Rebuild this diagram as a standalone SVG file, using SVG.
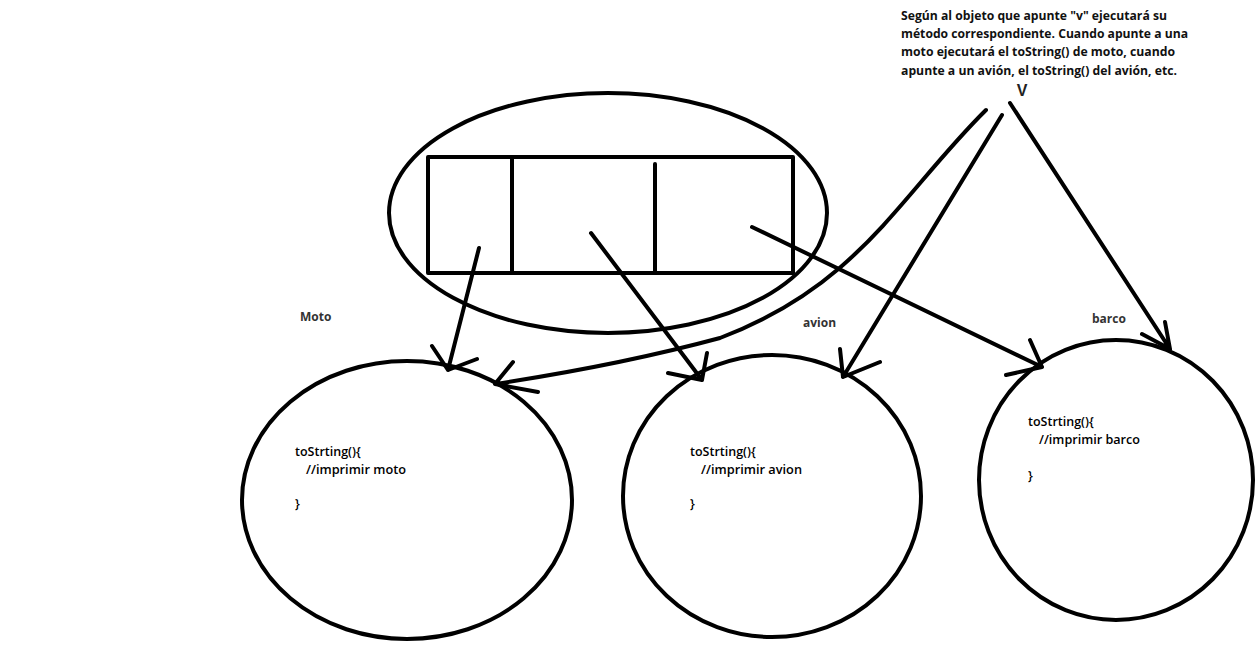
<svg xmlns="http://www.w3.org/2000/svg" width="1256" height="653" viewBox="0 0 1256 653">
<style>
.s{fill:none;stroke:#000;stroke-width:4;stroke-linecap:round;stroke-linejoin:round}
.note{font-family:"Open Sans","Liberation Sans",sans-serif;font-weight:bold;font-size:12.5px;fill:#111}
.lbl{font-family:"Open Sans","Liberation Sans",sans-serif;font-weight:bold;font-size:12px;fill:#333}
.code{font-family:"Open Sans","Liberation Sans",sans-serif;font-weight:600;font-size:12.5px;fill:#000}
</style>
<rect width="1256" height="653" fill="#fff"/>
<g id="note">
<text class="note" x="901" y="20" textLength="266" lengthAdjust="spacingAndGlyphs">Según al objeto que apunte "v" ejecutará su</text>
<text class="note" x="901" y="38" textLength="287" lengthAdjust="spacingAndGlyphs">método correspondiente. Cuando apunte a una</text>
<text class="note" x="901" y="56" textLength="274" lengthAdjust="spacingAndGlyphs">moto ejecutará el toString() de moto, cuando</text>
<text class="note" x="901" y="75" textLength="276" lengthAdjust="spacingAndGlyphs">apunte a un avión, el toString() del avión, etc.</text>
</g>
<g id="v"><text x="1022" y="96" text-anchor="middle" style="font-family:'Liberation Sans',sans-serif;font-weight:bold;font-size:16px;fill:#222">V</text></g>
<g id="array">
<ellipse class="s" cx="608" cy="213" rx="219" ry="120"/>
<rect class="s" x="428" y="157" width="365" height="116" stroke-linecap="butt" stroke-linejoin="miter"/>
<line class="s" x1="512" y1="157" x2="512" y2="273"/>
<line class="s" x1="655" y1="164" x2="655" y2="273"/>
</g>
<g id="moto">
<ellipse class="s" cx="407" cy="500" rx="165" ry="139"/>
<text class="lbl" x="300" y="321">Moto</text>
<text class="code" x="295" y="456">toStrting(){</text>
<text class="code" x="306" y="474" textLength="100" lengthAdjust="spacingAndGlyphs">//imprimir moto</text>
<text class="code" x="295" y="508">}</text>
</g>
<g id="avion">
<ellipse class="s" cx="772" cy="496" rx="149" ry="141"/>
<text class="lbl" x="803" y="327">avion</text>
<text class="code" x="690" y="456">toStrting(){</text>
<text class="code" x="701" y="474" textLength="101" lengthAdjust="spacingAndGlyphs">//imprimir avion</text>
<text class="code" x="690" y="508">}</text>
</g>
<g id="barco">
<ellipse class="s" cx="1116" cy="480" rx="137" ry="140"/>
<text class="lbl" x="1092" y="323">barco</text>
<text class="code" x="1028" y="426">toStrting(){</text>
<text class="code" x="1039" y="444" textLength="101" lengthAdjust="spacingAndGlyphs">//imprimir barco</text>
<text class="code" x="1028" y="480">}</text>
</g>
<g id="connectors">
<path class="s" d="M479,248 L448,370 M432,346 L448,370 L477,359"/>
<path class="s" d="M986,110 C900,195 860,285 720,338 Q620,365 495,384 M513,362 L495,384 L538,392"/>
<path class="s" d="M591,233 L702,380 M668,373 L702,380 L707,353"/>
<path class="s" d="M1002,115 L843,377 M840,349 L843,377 L880,362"/>
<path class="s" d="M752,227 L1042,367 M1030,340 L1042,367 L1006,375"/>
<path class="s" d="M1010,103 L1170,349 M1165,322 L1170,349 L1142,334"/>
</g>
</svg>
